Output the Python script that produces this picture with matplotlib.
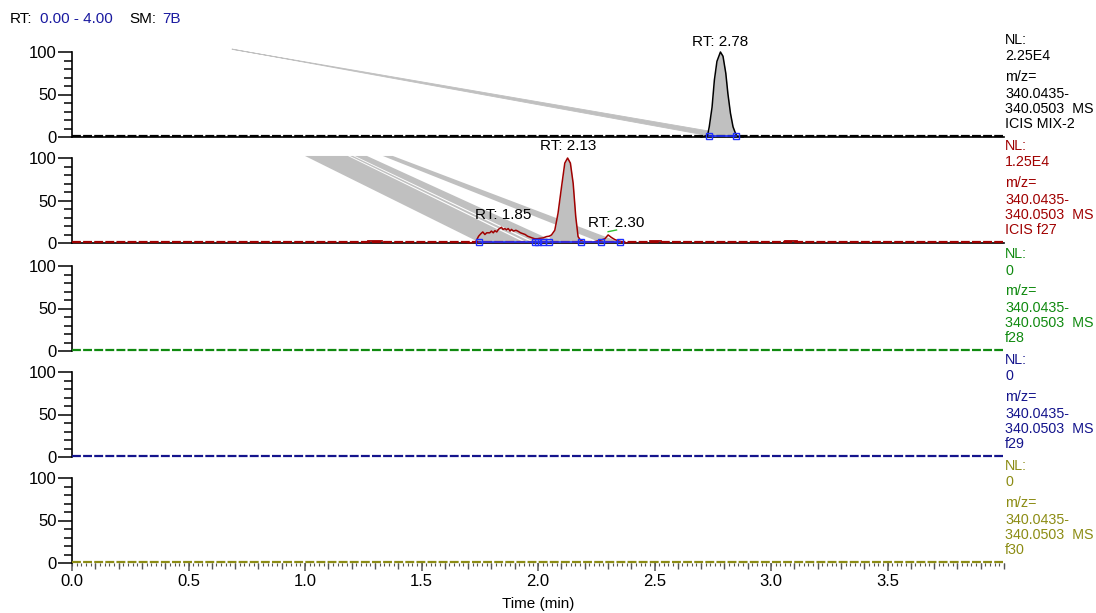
import numpy as np
import matplotlib.pyplot as plt
from matplotlib.ticker import MultipleLocator, NullFormatter

plt.rcParams['font.family'] = ['Liberation Sans', 'DejaVu Sans']

# ---- data ----
panel_colors = ['#000000', '#a00000', '#108a10', '#14148c', '#8c8c14']
nl_values = ['2.25E4', '1.25E4', '0', '0', '0']
scan_names = ['ICIS MIX-2', 'ICIS f27', 'f28', 'f29', 'f30']

# MIX-2 trace around the 2.78 peak
mix2_t = [2.700, 2.728, 2.735, 2.747, 2.757, 2.768, 2.783, 2.794, 2.806, 2.815,
          2.826, 2.837, 2.848, 2.855, 2.880]
mix2_y = [0, 2, 12, 35, 67, 89, 100, 95, 75, 51, 28, 12, 4, 1, 0]
mix2_bounds = [2.733, 2.851]

# f27 trace 1.7 - 2.4 min
f27_t = [1.700, 1.732, 1.745, 1.755, 1.763, 1.772, 1.780, 1.793, 1.800, 1.808,
         1.815, 1.823, 1.830, 1.843, 1.850, 1.858, 1.865, 1.872, 1.880, 1.886,
         1.895, 1.905, 1.913, 1.925, 1.935, 1.945, 1.955, 1.965, 1.975, 1.986,
         1.997, 2.008, 2.022, 2.036, 2.048, 2.058, 2.072, 2.086, 2.101, 2.115,
         2.127, 2.139, 2.151, 2.162, 2.172, 2.182, 2.200, 2.235, 2.265, 2.287,
         2.301, 2.315, 2.330, 2.351, 2.380]
f27_y = [0, 1, 8, 11, 13, 10, 12, 12, 14, 12,
         14.5, 13, 16, 18.5, 16, 17, 15.5, 17, 14, 16,
         14, 15, 14, 12, 11, 10, 8, 7, 6, 5,
         5, 5.5, 6, 7.5, 8, 9.5, 15, 35, 66, 94,
         100, 94, 70, 31, 7.5, 3.5, 1, 1, 3, 5,
         9.5, 6.5, 4, 2, 0]
f27_peak = [2.048, 2.186]
f27_bounds = [1.747, 1.986, 2.000, 2.022, 2.048, 2.186, 2.269, 2.351]
f27_bumps = [(1.27, 1.33), (2.48, 2.53), (3.06, 3.11)]
f27_leader_t = [2.301, 2.337]
f27_leader_y = [13.3, 15.3]

# grey streaks (top start / base end, minutes)
mix2_streak_top = (0.686, 0.690)
mix2_streak_base = (2.733, 2.851)
f27_streak_top = [(1.000, 1.184), (1.193, 1.206), (1.214, 1.266), (1.334, 1.377)]
f27_streak_base = [(1.746, 1.939), (1.952, 1.973), (1.986, 2.076), (2.265, 2.351)]

peak_labels = [(0, 2.78, 104, 'RT: 2.78'), (1, 2.13, 106, 'RT: 2.13'),
               (1, 1.85, 25, 'RT: 1.85'), (1, 2.335, 15.5, 'RT: 2.30')]

x_ticks = [0.0, 0.5, 1.0, 1.5, 2.0, 2.5, 3.0, 3.5]

# ---- layout ----
W, H = 1096, 613
fig = plt.figure(figsize=(W / 100, H / 100), dpi=100)
panel_px = [(52, 137), (158, 243), (266, 351), (372, 457), (478, 563)]
axes = []
for top, bot in panel_px:
    ax = fig.add_axes([72 / W, 1 - bot / H, 932 / W, (bot - top) / H])
    ax.set_xlim(0, 4.0)
    ax.set_ylim(0, 100)
    for s in ['top', 'right', 'bottom']:
        ax.spines[s].set_visible(False)
    ax.spines['left'].set_linewidth(1.2)
    ax.set_yticks([0, 50, 100])
    ax.yaxis.set_minor_locator(MultipleLocator(10))
    ax.tick_params(axis='y', which='major', length=10, width=1.1, pad=1, labelsize=12)
    ax.tick_params(axis='y', which='minor', length=6, width=1.1)
    ax.set_xticks([])
    axes.append(ax)

grey = '#c0c0c0'
blue = '#2030ff'

# baselines
for i, ax in enumerate(axes):
    c = panel_colors[i]
    if i < 2:
        ax.axhline(0, color='black', lw=1.2, clip_on=False, zorder=2)
    ax.plot([0, 3.995], [0.8, 0.8], color=c, lw=1.6, ls=(0, (4, 1)), clip_on=False, zorder=3)

# panel 1
ax = axes[0]
ax.fill([mix2_streak_top[0], mix2_streak_top[1], mix2_streak_base[1], mix2_streak_base[0]],
        [103.5, 103.0, 1.5, 1.5], color=grey, lw=0.6, ec=grey, clip_on=False, zorder=1)
t = np.array(mix2_t)
y = np.array(mix2_y)
m = (t >= mix2_bounds[0]) & (t <= mix2_bounds[1])
ax.fill_between(t[m], 1, y[m], color=grey, lw=0, zorder=2)
ax.plot(t, y, color=panel_colors[0], lw=1.1, clip_on=False, zorder=4)
ax.plot(mix2_bounds, [1, 1], color=blue, lw=1.2, marker='s', ms=5, mfc='none',
        mec=blue, mew=1, clip_on=False, zorder=5)

# panel 2
ax = axes[1]
for (a, b), (c, d) in zip(f27_streak_top, f27_streak_base):
    ax.fill([a, b, d, c], [102.4, 102.4, 1, 1], color=grey, lw=0, clip_on=False, zorder=1)
t = np.array(f27_t)
y = np.array(f27_y)
m = (t >= f27_peak[0]) & (t <= f27_peak[1])
ax.fill_between(t[m], 1, y[m], color=grey, lw=0, zorder=2)
ax.plot(t, y, color=panel_colors[1], lw=1.1, clip_on=False, zorder=4)
for a, b in f27_bumps:
    ax.plot([a, b], [2, 2], color=panel_colors[1], lw=1.3, zorder=4)
ax.plot(f27_leader_t, f27_leader_y, color='#30c030', lw=1, zorder=4)
ax.plot(f27_bounds, [1] * len(f27_bounds), color=blue, lw=1.2, marker='s', ms=5,
        mfc='none', mec=blue, mew=1, clip_on=False, zorder=5)

for i, x, yv, s in peak_labels:
    axes[i].text(x, yv, s, ha='center', va='bottom', fontsize=11, zorder=6, clip_on=False)

# bottom axis ticks
ax = axes[-1]
ax.set_xticks(x_ticks)
ax.set_xticklabels([f'{v:.1f}' for v in x_ticks])
ax.xaxis.set_minor_locator(MultipleLocator(0.1))
ax.tick_params(axis='x', which='major', length=6, width=1.1, color='#555555', pad=2, labelsize=12)
ax.tick_params(axis='x', which='minor', length=4, width=1, color='#555555')
sec = ax.secondary_xaxis('bottom')
sec.spines['bottom'].set_visible(False)
sec.xaxis.set_major_locator(MultipleLocator(0.02))
sec.xaxis.set_major_formatter(NullFormatter())
sec.tick_params(axis='x', length=2, width=0.8, color='#555555')
fig.text(538 / W, 1 - 604 / H, 'Time (min)', ha='center', va='center', fontsize=11)

# right-hand labels
offsets = [-11.5, 4.5, 25, 41.5, 57, 72.5]
for i, (top, bot) in enumerate(panel_px):
    lines = ['NL:', nl_values[i], 'm/z=', '340.0435-', '340.0503  MS', scan_names[i]]
    for off, s in zip(offsets, lines):
        fig.text(1005 / W, 1 - (top + off) / H, s, ha='left', va='center',
                 fontsize=10.3, color=panel_colors[i])

# header
hdr_blue = '#1a1aa0'
hy = 1 - 19 / H
fig.text(10 / W, hy, 'RT:', ha='left', va='center', fontsize=11)
fig.text(40 / W, hy, '0.00 - 4.00', ha='left', va='center', fontsize=11, color=hdr_blue)
fig.text(129 / W, hy, 'SM:', ha='left', va='center', fontsize=11)
fig.text(162 / W, hy, '7B', ha='left', va='center', fontsize=11, color=hdr_blue)

fig.savefig('out.png', dpi=100)
